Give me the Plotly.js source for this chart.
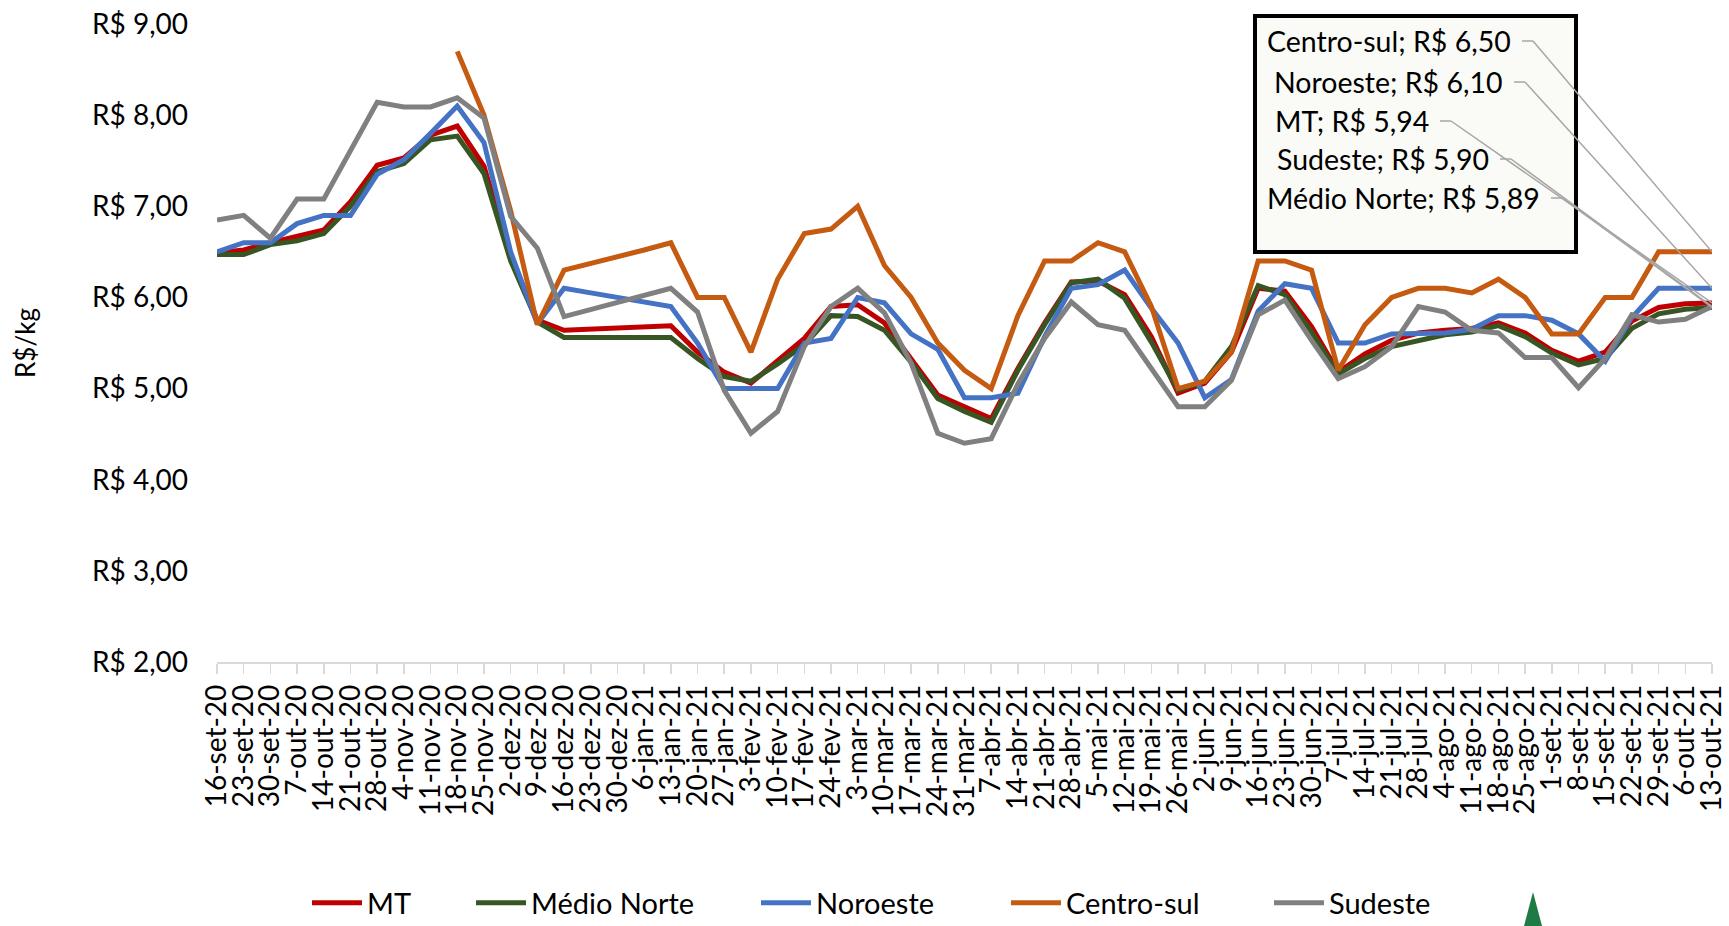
<!DOCTYPE html>
<html>
<head>
<meta charset="utf-8">
<script src="https://cdn.plot.ly/plotly-3.0.1.min.js"></script>
<style>html,body{margin:0;padding:0;background:#fff;}#chart{width:1729px;height:926px;}</style>
</head>
<body>
<div id="chart"></div>
<script>
// ---------- data ----------
const categories = ['16-set-20','23-set-20','30-set-20','7-out-20','14-out-20','21-out-20','28-out-20','4-nov-20','11-nov-20','18-nov-20','25-nov-20','2-dez-20','9-dez-20','16-dez-20','23-dez-20','30-dez-20','6-jan-21','13-jan-21','20-jan-21','27-jan-21','3-fev-21','10-fev-21','17-fev-21','24-fev-21','3-mar-21','10-mar-21','17-mar-21','24-mar-21','31-mar-21','7-abr-21','14-abr-21','21-abr-21','28-abr-21','5-mai-21','12-mai-21','19-mai-21','26-mai-21','2-jun-21','9-jun-21','16-jun-21','23-jun-21','30-jun-21','7-jul-21','14-jul-21','21-jul-21','28-jul-21','4-ago-21','11-ago-21','18-ago-21','25-ago-21','1-set-21','8-set-21','15-set-21','22-set-21','29-set-21','6-out-21','13-out-21'];

const mt = [6.49,6.52,6.60,6.67,6.74,7.05,7.45,7.53,7.78,7.88,7.44,6.45,5.75,5.64,5.65,5.66,5.68,5.69,5.40,5.18,5.06,5.31,5.55,5.90,5.92,5.72,5.33,4.93,4.80,4.67,5.22,5.72,6.17,6.18,6.03,5.57,4.95,5.06,5.40,6.10,6.07,5.68,5.18,5.38,5.53,5.61,5.64,5.66,5.72,5.61,5.42,5.30,5.40,5.74,5.89,5.93,5.94];

const medioNorte = [6.47,6.47,6.58,6.62,6.70,7.00,7.38,7.47,7.73,7.77,7.36,6.40,5.73,5.56,5.56,5.56,5.56,5.56,5.33,5.13,5.08,5.27,5.48,5.80,5.79,5.64,5.29,4.89,4.75,4.63,5.20,5.70,6.16,6.20,5.99,5.51,4.98,5.08,5.46,6.13,6.03,5.62,5.16,5.33,5.46,5.53,5.59,5.62,5.69,5.57,5.39,5.26,5.33,5.66,5.82,5.87,5.89];

const noroeste = [6.50,6.60,6.60,6.81,6.90,6.90,7.35,7.51,7.80,8.10,7.70,6.50,5.71,6.10,6.05,6.00,5.95,5.90,5.50,5.00,5.00,5.00,5.50,5.55,6.00,5.94,5.60,5.43,4.90,4.90,4.95,5.57,6.10,6.14,6.30,5.88,5.50,4.90,5.10,5.85,6.15,6.10,5.50,5.50,5.60,5.60,5.61,5.65,5.80,5.80,5.75,5.60,5.30,5.78,6.10,6.10,6.10];

const centroSul = [null,null,null,null,null,null,null,null,null,8.70,8.00,6.95,5.70,6.30,6.37,6.45,6.52,6.60,6.00,6.00,5.40,6.20,6.70,6.75,7.00,6.35,6.00,5.50,5.20,5.00,5.80,6.40,6.40,6.60,6.50,5.90,5.00,5.08,5.40,6.40,6.40,6.30,5.20,5.70,6.00,6.10,6.10,6.05,6.20,6.00,5.60,5.60,6.00,6.00,6.50,6.50,6.50];

const sudeste = [6.85,6.90,6.65,7.08,7.08,7.61,8.14,8.09,8.09,8.19,7.97,6.89,6.54,5.79,5.87,5.95,6.02,6.10,5.84,4.98,4.51,4.75,5.46,5.90,6.10,5.83,5.28,4.51,4.40,4.45,5.05,5.55,5.95,5.70,5.64,5.22,4.80,4.80,5.09,5.81,5.97,5.53,5.11,5.24,5.46,5.90,5.84,5.64,5.61,5.34,5.34,5.01,5.33,5.81,5.73,5.76,5.90];

const seriesNames = ['MT','Médio Norte','Noroeste','Centro-sul','Sudeste'];
const seriesValues = [mt, medioNorte, noroeste, centroSul, sudeste];
const yTickVals = [2,3,4,5,6,7,8,9];

// ---------- styling ----------
const colors = ['#C00000','#375623','#4472C4','#C55A11','#808080'];
const FONT = 'Lato, "Open Sans", sans-serif';
const W = 1729, H = 926;
const PL = 217, PR = 1712, PT = 24, PB = 662;   // plot area in pixels
const YMIN = 2, YMAX = 9;
const XMAX = categories.length - 1;

const pxToPaperX = px => (px - PL) / (PR - PL);
const pxToPaperY = py => (PB - py) / (PB - PT);
const pxToX = px => (px - PL) / (PR - PL) * XMAX;
const pyToY = py => YMIN + (PB - py) / (PB - PT) * (YMAX - YMIN);
const fmt = v => 'R$ ' + v.toFixed(2).replace('.', ',');

// legend placement (pixels)
const legendLeft = [307, 471, 756, 1006, 1269];
const legendCenterY = 903;

const traces = seriesNames.map((name, i) => ({
  type: 'scatter', mode: 'lines', name: name,
  x: categories, y: seriesValues[i],
  line: {color: colors[i], width: 5},
  connectgaps: false,
  legend: i === 0 ? 'legend' : 'legend' + (i + 1),
  hoverinfo: 'x+y+name'
}));

// data-label block (order as drawn in box), text right edge / row centre in px
const labelOrder = [3, 2, 0, 4, 1];
const labelRight = [1512, 1504, 1430, 1490, 1541];
const labelY = [41, 82, 121, 159, 198];

const annotations = [];
const shapes = [];

shapes.push({type:'rect', xref:'paper', yref:'paper', layer:'above',
  x0: pxToPaperX(1255), x1: pxToPaperX(1576), y0: pxToPaperY(252), y1: pxToPaperY(16),
  line:{color:'#000000', width:4}, fillcolor:'#FAFBF6'});

labelOrder.forEach((si, k) => {
  const vals = seriesValues[si];
  const last = vals[vals.length - 1];
  annotations.push({
    xref:'paper', yref:'paper', x: pxToPaperX(labelRight[k] + 1), y: pxToPaperY(labelY[k]),
    xanchor:'right', yanchor:'middle', showarrow:false,
    text: seriesNames[si] + '; ' + fmt(last),
    font:{family: FONT, size: 28.5, color:'#000000'}
  });
  const s0 = labelRight[k] + 10, s1 = labelRight[k] + 21;
  shapes.push({type:'line', xref:'x', yref:'y', layer:'above',
    x0: pxToX(s0), x1: pxToX(s1), y0: pyToY(labelY[k]), y1: pyToY(labelY[k]),
    line:{color:'#A6A6A6', width:1.5}});
  shapes.push({type:'line', xref:'x', yref:'y', layer:'above',
    x0: pxToX(s1), x1: XMAX, y0: pyToY(labelY[k]), y1: last,
    line:{color:'#A6A6A6', width:1.5}});
});

// small green logo fragment at the bottom edge
shapes.push({type:'path', xref:'paper', yref:'paper', layer:'above',
  path: 'M ' + pxToPaperX(1533) + ' ' + pxToPaperY(892) + ' L ' + pxToPaperX(1542) + ' ' + pxToPaperY(926) +
        ' L ' + pxToPaperX(1524) + ' ' + pxToPaperY(926) + ' Z',
  fillcolor:'#1E7B45', line:{width:0}});

const layout = {
  width: W, height: H,
  margin: {l: PL, r: W - PR, t: PT, b: H - PB, pad: 0},
  paper_bgcolor: '#FFFFFF', plot_bgcolor: '#FFFFFF',
  separators: ',.',
  font: {family: FONT, size: 28, color: '#000000'},
  xaxis: {
    type: 'category', categoryorder: 'array', categoryarray: categories,
    range: [0, XMAX], autorange: false, fixedrange: true,
    tickmode: 'linear', tick0: 0, dtick: 1,
    tickangle: -90, tickfont: {family: FONT, size: 28, color: '#000000'},
    ticks: 'outside', ticklen: 10, tickwidth: 1.5, tickcolor: '#D9D9D9',
    showline: true, linecolor: '#D9D9D9', linewidth: 1.5,
    showgrid: false, zeroline: false, automargin: false
  },
  yaxis: {
    range: [YMIN, YMAX], autorange: false, fixedrange: true,
    tickmode: 'array', tickvals: yTickVals, ticktext: yTickVals.map(fmt),
    tickfont: {family: FONT, size: 28, color: '#000000'},
    ticks: '', ticklabelstandoff: 28,
    showline: false, showgrid: false, zeroline: false, automargin: false,
    title: {text: 'R$/kg', font: {family: FONT, size: 26, color: '#000000'}, standoff: 48}
  },
  annotations: annotations,
  shapes: shapes,
  showlegend: true
};

seriesNames.forEach((n, i) => {
  const key = i === 0 ? 'legend' : 'legend' + (i + 1);
  layout[key] = {
    xref: 'container', yref: 'container',
    x: legendLeft[i] / W, y: (H - legendCenterY) / H,
    xanchor: 'left', yanchor: 'middle', orientation: 'h',
    bgcolor: 'rgba(0,0,0,0)', borderwidth: 0,
    itemwidth: 50, font: {family: FONT, size: 29, color: '#000000'},
    itemclick: false, itemdoubleclick: false
  };
});

Plotly.newPlot('chart', traces, layout, {displayModeBar: false, staticPlot: true});
</script>
</body>
</html>
